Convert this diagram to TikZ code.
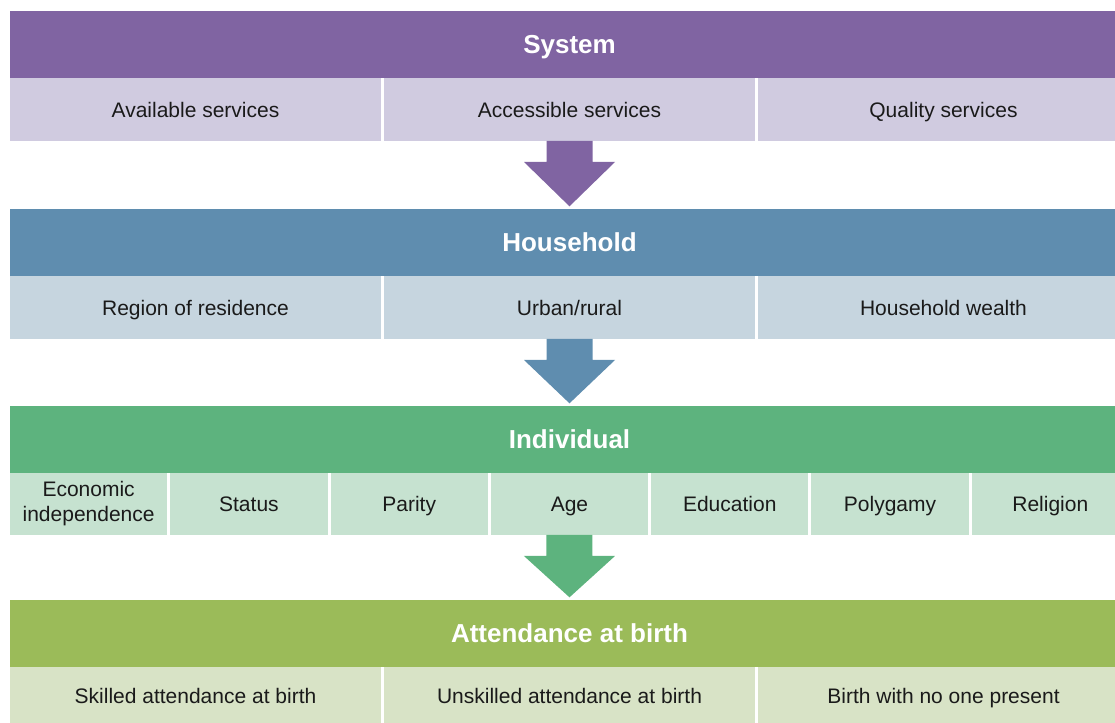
\documentclass[tikz,border=0pt]{standalone}
\usepackage{fontspec}
\setmainfont{Liberation Sans}
\usepackage{xcolor}
\usetikzlibrary{positioning,calc}

\definecolor{sysdark}{HTML}{8064A2}
\definecolor{syslight}{HTML}{D0CBE0}
\definecolor{hhdark}{HTML}{5F8DAF}
\definecolor{hhlight}{HTML}{C6D5DF}
\definecolor{inddark}{HTML}{5DB37E}
\definecolor{indlight}{HTML}{C6E2D0}
\definecolor{attdark}{HTML}{9BBB59}
\definecolor{attlight}{HTML}{D8E3C6}
\definecolor{celltext}{HTML}{1A1A1A}

\begin{document}
\begin{tikzpicture}[x=0.75pt, y=-0.75pt, node distance=2.25pt,
    header/.style={rectangle, fill=#1, text=white, font=\fontsize{19.5}{23}\selectfont\bfseries,
        minimum width=839.25pt, minimum height=50.25pt, text height=14pt, text depth=0pt,
        inner sep=0pt, outer sep=0pt, anchor=north west},
    cell/.style={rectangle, fill=#1, text=celltext, font=\fontsize{15.75}{18.75}\selectfont,
        minimum width=278.25pt, minimum height=47.25pt, text height=11.3pt, text depth=0pt,
        inner sep=0pt, outer sep=0pt, align=center},
    narrow/.style={minimum width=117.96pt, minimum height=46.5pt},
    last/.style={minimum height=43.5pt}]

    \useasboundingbox (0,0) rectangle (1115,723);

    % system level
    \node[header=sysdark] (sys) at (10,11) {System};
    \node[cell=syslight, anchor=north west] (sysa) at (sys.south west) {Available services};
    \node[cell=syslight, right=of sysa] (sysb) {Accessible services};
    \node[cell=syslight, right=of sysb] (sysc) {Quality services};

    % household level
    \node[header=hhdark] (hh) at (10,209) {Household};
    \node[cell=hhlight, anchor=north west] (hha) at (hh.south west) {Region of residence};
    \node[cell=hhlight, right=of hha] (hhb) {Urban/rural};
    \node[cell=hhlight, right=of hhb] (hhc) {Household wealth};

    % individual level
    \node[header=inddark] (ind) at (10,406) {Individual};
    \node[cell=indlight, narrow, text height={}, text depth={}, anchor=north west] (inda) at (ind.south west) {Economic\\independence};
    \node[cell=indlight, narrow, right=of inda] (indb) {Status};
    \node[cell=indlight, narrow, right=of indb] (indc) {Parity};
    \node[cell=indlight, narrow, right=of indc] (indd) {Age};
    \node[cell=indlight, narrow, right=of indd] (inde) {Education};
    \node[cell=indlight, narrow, right=of inde] (indf) {Polygamy};
    \node[cell=indlight, narrow, right=of indf] (indg) {Religion};

    % outcome
    \node[header=attdark] (att) at (10,600) {Attendance at birth};
    \node[cell=attlight, last, anchor=north west] (atta) at (att.south west) {Skilled attendance at birth};
    \node[cell=attlight, last, right=of atta] (attb) {Unskilled attendance at birth};
    \node[cell=attlight, last, right=of attb] (attc) {Birth with no one present};

    % block arrows between levels
    \foreach \from/\to/\col in {sysb/hh/sysdark, hhb/ind/hhdark, indd/att/inddark}
        \fill[\col] ($(\from.south)+(-23,0)$) -- ++(0,21) -- ++(-22.5,0)
            -- ([yshift=2pt]\to.north) -- ($(\from.south)+(45.5,21)$)
            -- ++(-22.5,0) -- ++(0,-21) -- cycle;
\end{tikzpicture}
\end{document}
